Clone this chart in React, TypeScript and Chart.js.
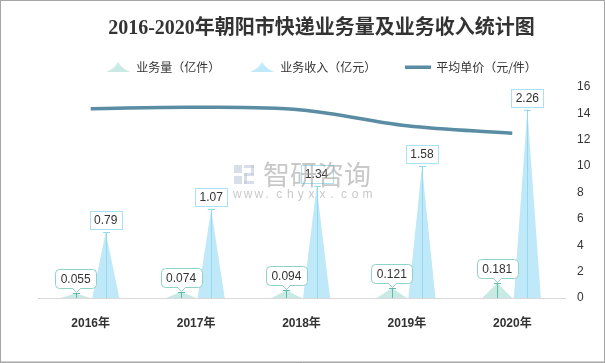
import React, { useEffect, useRef } from "react";
import { Chart, registerables } from "chart.js";

Chart.register(...registerables);

const titleText = "2016-2020年朝阳市快递业务量及业务收入统计图";
const categories = ["2016年", "2017年", "2018年", "2019年", "2020年"];
const seriesNames = ["业务量（亿件）", "业务收入（亿元）", "平均单价（元/件）"];
const volume = [0.055, 0.074, 0.094, 0.121, 0.181];
const revenue = [0.79, 1.07, 1.34, 1.58, 2.26];
const unitPrice = [14.36, 14.46, 14.26, 13.06, 12.49];
const rightAxisMin = 0;
const rightAxisMax = 16;
const rightAxisStep = 2;
const leftAxisMax = 2.53;

const VOL_FILL = "#C9EAE4";
const VOL_STEM = "#5DBBAA";
const VOL_BORDER = "#8ED3C6";
const REV_FILL = "#BFE9F8";
const REV_STEM = "#93D9EF";
const REV_BORDER = "#A8E2F4";
const LINE_COLOR = "#5A8DA3";
const TEXT = "#333333";
const LABEL_FONT = '12px "Liberation Sans", "Noto Sans", sans-serif';

function makeTriangleIcon(color: string) {
  const c = document.createElement("canvas");
  c.width = 24;
  c.height = 10;
  const g = c.getContext("2d")!;
  g.fillStyle = color;
  g.beginPath();
  g.moveTo(0, 10);
  g.quadraticCurveTo(9, 6, 12, 0);
  g.quadraticCurveTo(15, 6, 24, 10);
  g.closePath();
  g.fill();
  return c;
}

function makeLineIcon(color: string) {
  const c = document.createElement("canvas");
  c.width = 26;
  c.height = 4;
  const g = c.getContext("2d")!;
  g.fillStyle = color;
  g.fillRect(0, 0.5, 26, 3.5);
  return c;
}

export default function App() {
  const ref = useRef<HTMLCanvasElement>(null);

  useEffect(() => {
    const canvas = ref.current!;
    const icons = [makeTriangleIcon(VOL_FILL), makeTriangleIcon(REV_FILL), makeLineIcon(LINE_COLOR)];
    const fills = [VOL_FILL, REV_FILL, LINE_COLOR];
    const legendTexts = [seriesNames[0] + "\u3000\u3000", seriesNames[1] + "\u3000\u3000", seriesNames[2]];

    const legendHeightFix = {
      id: "legendHeightFix",
      afterInit(chart: any) {
        const lg = chart.legend;
        if (lg && !lg.__wrapped) {
          const f = lg.fit.bind(lg);
          lg.fit = () => {
            f();
            lg.height = 38;
          };
          lg.__wrapped = true;
        }
      },
    };

    const shapes = {
      id: "shapes",
      beforeDatasetsDraw(chart: any) {
        const ctx = chart.ctx;
        [0, 1].forEach((di) => {
          const meta = chart.getDatasetMeta(di);
          meta.data.forEach((el: any) => {
            const { x, y, base, width } = el.getProps(["x", "y", "base", "width"], true);
            const w = width * (di === 0 ? 1.0 : 0.9);
            ctx.save();
            ctx.fillStyle = di === 0 ? VOL_FILL : REV_FILL;
            ctx.beginPath();
            ctx.moveTo(x - w / 2, base);
            ctx.lineTo(x, y);
            ctx.lineTo(x + w / 2, base);
            ctx.closePath();
            ctx.fill();
            ctx.restore();
          });
        });
      },
      afterDatasetsDraw(chart: any) {
        const ctx = chart.ctx;
        [0, 1].forEach((di) => {
          const meta = chart.getDatasetMeta(di);
          const values = chart.data.datasets[di].data as number[];
          meta.data.forEach((el: any, i: number) => {
            const { x, y, base } = el.getProps(["x", "y", "base"], true);
            ctx.save();
            ctx.strokeStyle = di === 0 ? VOL_STEM : REV_STEM;
            ctx.lineWidth = 1;
            ctx.beginPath();
            ctx.moveTo(Math.round(x) + 0.5, base);
            ctx.lineTo(Math.round(x) + 0.5, y);
            ctx.moveTo(Math.round(x) - 3, Math.round(y) + 0.5);
            ctx.lineTo(Math.round(x) + 4, Math.round(y) + 0.5);
            ctx.stroke();

            const text = String(values[i]);
            ctx.font = LABEL_FONT;
            const tw = ctx.measureText(text).width;
            if (di === 1) {
              const bw = Math.round(tw + 9);
              const bh = 18;
              const bx = Math.round(x - bw / 2) + 0.5;
              const by = Math.round(y - 3 - bh) + 0.5;
              ctx.fillStyle = "#ffffff";
              ctx.fillRect(bx, by, bw, bh);
              ctx.strokeStyle = REV_BORDER;
              ctx.strokeRect(bx, by, bw, bh);
              ctx.fillStyle = TEXT;
              ctx.textAlign = "center";
              ctx.textBaseline = "middle";
              ctx.fillText(text, x, by + bh / 2 + 0.5);
            } else {
              const bw = Math.round(tw + 11);
              const bh = 19;
              const bottom = Math.round(y - 5) + 0.5;
              const bx = Math.round(x - bw / 2) + 0.5;
              const by = bottom - bh;
              ctx.fillStyle = "#ffffff";
              ctx.strokeStyle = VOL_BORDER;
              ctx.beginPath();
              (ctx as any).roundRect(bx, by, bw, bh, 4);
              ctx.fill();
              ctx.stroke();
              const px = Math.round(x) + 0.5;
              ctx.beginPath();
              ctx.moveTo(px - 4, bottom);
              ctx.lineTo(px, bottom + 4);
              ctx.lineTo(px + 4, bottom);
              ctx.fill();
              ctx.stroke();
              ctx.fillRect(px - 3.5, bottom - 1, 7, 1.6);
              ctx.fillStyle = TEXT;
              ctx.textAlign = "center";
              ctx.textBaseline = "middle";
              ctx.fillText(text, x, by + bh / 2 + 0.5);
            }
            ctx.restore();
          });
        });
      },
      afterDraw(chart: any) {
        const ctx = chart.ctx;
        ctx.save();
        ctx.globalAlpha = 0.55;
        ctx.fillStyle = "#B9C4D6";
        ctx.fillRect(234, 165, 8, 8);
        ctx.fillRect(244, 165, 10, 3);
        ctx.fillRect(251, 165, 3, 10);
        ctx.fillRect(244, 173, 10, 3);
        ctx.fillRect(244, 173, 3, 11);
        ctx.fillRect(234, 176, 8, 8);
        ctx.fillRect(244, 181, 10, 3);
        ctx.fillStyle = "#9A9A9A";
        ctx.font = '27px "Noto Sans CJK SC", sans-serif';
        ctx.textAlign = "left";
        ctx.textBaseline = "middle";
        ctx.fillText("智研咨询", 263, 175);
        ctx.font = '12px "Liberation Sans", sans-serif';
        const wm = "www.chyxx.com".split("");
        wm.forEach((ch, k) => ctx.fillText(ch, 233 + k * 10.8, 195));
        ctx.restore();
        ctx.save();
        ctx.strokeStyle = "#A6A6A6";
        ctx.lineWidth = 1;
        ctx.strokeRect(0.5, 0.5, 604, 361.5);
        ctx.beginPath();
        ctx.moveTo(0, 362.5);
        ctx.lineTo(605, 362.5);
        ctx.stroke();
        ctx.restore();
      },
    };

    const chart = new Chart(canvas, {
      type: "bar",
      data: {
        labels: categories,
        datasets: [
          {
            type: "bar",
            label: seriesNames[0],
            data: volume,
            yAxisID: "y",
            backgroundColor: "rgba(0,0,0,0)",
            categoryPercentage: 0.571,
            barPercentage: 1,
            order: 2,
          },
          {
            type: "bar",
            label: seriesNames[1],
            data: revenue,
            yAxisID: "y",
            backgroundColor: "rgba(0,0,0,0)",
            categoryPercentage: 0.571,
            barPercentage: 1,
            order: 2,
          },
          {
            type: "line",
            label: seriesNames[2],
            data: unitPrice,
            yAxisID: "y1",
            borderColor: LINE_COLOR,
            backgroundColor: LINE_COLOR,
            borderWidth: 3.5,
            pointRadius: 0,
            tension: 0.35,
            order: 1,
          } as any,
        ],
      },
      options: {
        animation: false,
        responsive: false,
        maintainAspectRatio: false,
        layout: { padding: { left: 38, right: 0, top: 0, bottom: 0 } },
        plugins: {
          tooltip: { enabled: false },
          title: {
            display: true,
            text: titleText,
            color: TEXT,
            font: { family: '"Liberation Serif", "Noto Sans CJK SC", serif', size: 20, weight: "bold" },
            padding: { top: 17, bottom: 8 },
          },
          legend: {
            display: true,
            position: "top",
            labels: {
              usePointStyle: true,
              pointStyleWidth: 24,
              padding: 12,
              color: TEXT,
              font: { family: '"Noto Sans CJK SC", sans-serif', size: 12 },
              generateLabels: () =>
                legendTexts.map((t, i) => ({
                  text: t,
                  pointStyle: icons[i] as any,
                  fillStyle: fills[i],
                  strokeStyle: "rgba(0,0,0,0)",
                  lineWidth: 0,
                  hidden: false,
                  datasetIndex: i,
                  fontColor: TEXT,
                })),
            },
          },
        },
        scales: {
          x: {
            grid: { display: false, drawTicks: false },
            border: { display: true, color: "#D9D9D9", width: 1 },
            afterFit: (scale: any) => {
              scale.height = 65;
            },
            ticks: {
              color: TEXT,
              padding: 18,
              font: { family: '"Liberation Sans", "Noto Sans CJK SC", sans-serif', size: 12, weight: "bold" },
            },
          },
          y: {
            display: false,
            min: 0,
            max: leftAxisMax,
          },
          y1: {
            position: "right",
            min: rightAxisMin,
            max: rightAxisMax,
            grid: { display: false, drawTicks: false },
            border: { display: false },
            afterFit: (scale: any) => {
              scale.width = 40;
            },
            ticks: {
              stepSize: rightAxisStep,
              color: TEXT,
              padding: 12,
              font: { family: '"Liberation Sans", sans-serif', size: 12 },
            },
          },
        },
      },
      plugins: [legendHeightFix, shapes],
    });

    return () => chart.destroy();
  }, []);

  return (
    <div style={{ position: "fixed", left: 0, top: 0, width: 605, height: 363, background: "#fff" }}>
      <canvas ref={ref} width={605} height={363} style={{ width: 605, height: 363, display: "block" }} />
    </div>
  );
}
